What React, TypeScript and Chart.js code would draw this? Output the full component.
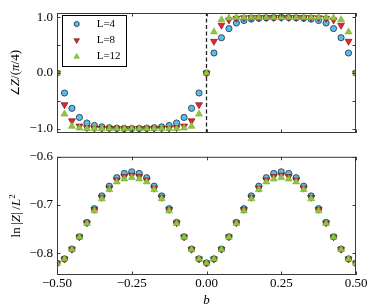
import React, { useEffect, useRef } from 'react';
import { Chart, registerables } from 'chart.js';
import { drawPoint } from 'chart.js/helpers';

Chart.register(...registerables);

// ---------- data ----------
const B_VALUES = [
  -0.5, -0.475, -0.45, -0.425, -0.4, -0.375, -0.35, -0.325, -0.3, -0.275, -0.25,
  -0.225, -0.2, -0.175, -0.15, -0.125, -0.1, -0.075, -0.05, -0.025, 0,
  0.025, 0.05, 0.075, 0.1, 0.125, 0.15, 0.175, 0.2, 0.225, 0.25,
  0.275, 0.3, 0.325, 0.35, 0.375, 0.4, 0.425, 0.45, 0.475, 0.5,
];

const SERIES_LABELS = ['L=4', 'L=8', 'L=12'];

const ANGLE_L4 = [
  0, -0.36, -0.635, -0.8, -0.9, -0.945, -0.97, -0.985, -0.993, -0.997, -1.0,
  -0.997, -0.993, -0.985, -0.97, -0.945, -0.9, -0.8, -0.635, -0.36, 0,
  0.36, 0.635, 0.8, 0.9, 0.945, 0.97, 0.985, 0.993, 0.997, 1.0,
  0.997, 0.993, 0.985, 0.97, 0.945, 0.9, 0.8, 0.635, 0.36, 0,
];
const ANGLE_L8 = [
  0, -0.57, -0.86, -0.955, -0.985, -0.995, -1, -1, -1, -1, -1,
  -1, -1, -1, -1, -0.995, -0.985, -0.955, -0.86, -0.57, 0,
  0.57, 0.86, 0.955, 0.985, 0.995, 1, 1, 1, 1, 1,
  1, 1, 1, 1, 0.995, 0.985, 0.955, 0.86, 0.57, 0,
];
const ANGLE_L12 = [
  0, -0.74, -0.96, -0.99, -1, -1, -1, -1, -1, -1, -1,
  -1, -1, -1, -1, -1, -1, -0.99, -0.96, -0.74, 0,
  0.74, 0.96, 0.99, 1, 1, 1, 1, 1, 1, 1,
  1, 1, 1, 1, 1, 1, 0.99, 0.96, 0.74, 0,
];

const LOGZ_L4 = [
  -0.8205, -0.8116, -0.7913, -0.7657, -0.7359, -0.7075, -0.6811, -0.6609, -0.6433, -0.6345, -0.6311,
  -0.6345, -0.6433, -0.6609, -0.6811, -0.7075, -0.7359, -0.7657, -0.7913, -0.8116, -0.8200,
  -0.8116, -0.7913, -0.7657, -0.7359, -0.7075, -0.6811, -0.6609, -0.6433, -0.6345, -0.6311,
  -0.6345, -0.6433, -0.6609, -0.6811, -0.7075, -0.7359, -0.7657, -0.7913, -0.8116, -0.8205,
];
const LOGZ_L8 = [
  -0.8205, -0.8116, -0.7915, -0.766, -0.737, -0.709, -0.684, -0.665, -0.648, -0.641, -0.638,
  -0.641, -0.648, -0.665, -0.684, -0.709, -0.737, -0.766, -0.7915, -0.8116, -0.8202,
  -0.8116, -0.7915, -0.766, -0.737, -0.709, -0.684, -0.665, -0.648, -0.641, -0.638,
  -0.641, -0.648, -0.665, -0.684, -0.709, -0.737, -0.766, -0.7915, -0.8116, -0.8205,
];
const LOGZ_L12 = [
  -0.8206, -0.8118, -0.792, -0.7665, -0.738, -0.712, -0.687, -0.668, -0.652, -0.646, -0.643,
  -0.646, -0.652, -0.668, -0.687, -0.712, -0.738, -0.7665, -0.792, -0.8118, -0.8203,
  -0.8118, -0.792, -0.7665, -0.738, -0.712, -0.687, -0.668, -0.652, -0.646, -0.643,
  -0.646, -0.652, -0.668, -0.687, -0.712, -0.738, -0.7665, -0.792, -0.8118, -0.8206,
];

const DIVIDER_X = [0, 0];
const DIVIDER_Y = [-1.08, 1.08];

const X_TICKS_STEP = 0.25;
const ANGLE_RANGE = [-1.08, 1.08];
const LOGZ_RANGE = [-0.845, -0.6];

// ---------- styles ----------
const SERIF = '"Liberation Serif", "Times New Roman", serif';
const STYLES = [
  { bg: '#5cbbea', border: '#1c2e3c', bw: 0.8, style: 'circle', rot: 0, r: 3.1, lr: 2.6 },
  { bg: '#e8242c', border: '#5a1010', bw: 0.6, style: 'triangle', rot: 180, r: 4.0, lr: 3.2 },
  { bg: '#8dc63f', border: '#7aae32', bw: 0.6, style: 'triangle', rot: 0, r: 4.0, lr: 3.2 },
];

const fmt = (v: number, d: number) => (v < -1e-9 ? '\u2212' : '') + Math.abs(v).toFixed(d);

function makeDatasets(series: number[][]) {
  const ds: any[] = series.map((vals, i) => ({
    label: SERIES_LABELS[i],
    data: B_VALUES.map((x, j) => ({ x, y: vals[j] })),
    showLine: false,
    pointStyle: STYLES[i].style,
    pointRotation: STYLES[i].rot,
    pointRadius: STYLES[i].r,
    backgroundColor: STYLES[i].bg,
    borderColor: STYLES[i].border,
    pointBorderWidth: STYLES[i].bw,
    borderWidth: STYLES[i].bw,
    order: 2 - i,
    clip: 0,
    inLegend: true,
  }));
  return ds;
}

// inward ticks and frame
const frameTicks = {
  id: 'frameTicks',
  afterDatasetsDraw(chart: any) {
    const { ctx, chartArea: a } = chart;
    const len = 3.5;
    ctx.save();
    ctx.strokeStyle = '#3a3a3a';
    ctx.lineWidth = 1;
    ctx.beginPath();
    const xs = chart.scales.x;
    xs.ticks.forEach((t: any) => {
      const p = Math.round(xs.getPixelForValue(t.value)) + 0.5;
      ctx.moveTo(p, a.bottom);
      ctx.lineTo(p, a.bottom - len);
      ctx.moveTo(p, a.top);
      ctx.lineTo(p, a.top + len);
    });
    const ys = chart.scales.y;
    ys.ticks.forEach((t: any) => {
      const p = Math.round(ys.getPixelForValue(t.value)) + 0.5;
      ctx.moveTo(a.left, p);
      ctx.lineTo(a.left + len, p);
      ctx.moveTo(a.right, p);
      ctx.lineTo(a.right - len, p);
    });
    ctx.stroke();
    ctx.strokeRect(a.left + 0.5, a.top + 0.5, a.right - a.left - 1, a.bottom - a.top - 1);
    ctx.restore();
  },
};

// legend box inside the top panel
const boxLegend = {
  id: 'boxLegend',
  afterDraw(chart: any) {
    const { ctx, chartArea: a } = chart;
    const left = a.left + 4.7;
    const top = a.top + 2.3;
    const w = 64.3;
    const h = 51;
    ctx.save();
    ctx.fillStyle = '#ffffff';
    ctx.fillRect(left, top, w, h);
    ctx.strokeStyle = '#000000';
    ctx.lineWidth = 1;
    ctx.strokeRect(Math.round(left) + 0.5, Math.round(top) + 0.5, Math.round(w), Math.round(h));
    const items = chart.data.datasets.filter((d: any) => d.inLegend);
    items.forEach((ds: any, i: number) => {
      const y = top + 8.7 + i * 16.3;
      const st = STYLES[i];
      ctx.fillStyle = ds.backgroundColor;
      ctx.strokeStyle = ds.borderColor;
      ctx.lineWidth = ds.pointBorderWidth;
      drawPoint(ctx, { pointStyle: ds.pointStyle, rotation: ds.pointRotation, radius: st.lr, borderWidth: ds.pointBorderWidth }, left + 15, y);
      ctx.fillStyle = '#000';
      ctx.font = `11px ${SERIF}`;
      ctx.textBaseline = 'middle';
      ctx.textAlign = 'left';
      ctx.fillText(ds.label, left + 35, y);
    });
    ctx.restore();
  },
};

type Run = { t: string; italic?: boolean; sup?: boolean; scale?: number; family?: string };

function makeYTitle(runs: Run[], baseX: number, size: number) {
  return {
    id: 'yTitle',
    afterDraw(chart: any) {
      const { ctx, chartArea: a } = chart;
      const cy = (a.top + a.bottom) / 2;
      ctx.save();
      ctx.translate(baseX, cy);
      ctx.rotate(-Math.PI / 2);
      ctx.fillStyle = '#000';
      ctx.textBaseline = 'alphabetic';
      ctx.textAlign = 'left';
      const fonts = runs.map((r) => {
        const s = r.sup ? Math.round(size * 0.7) : Math.round(size * (r.scale || 1));
        return `${r.italic ? 'italic ' : ''}${s}px ${r.family || SERIF}`;
      });
      const widths = runs.map((r, i) => {
        ctx.font = fonts[i];
        return ctx.measureText(r.t).width;
      });
      const total = widths.reduce((s, w) => s + w, 0);
      let x = -total / 2;
      runs.forEach((r, i) => {
        ctx.font = fonts[i];
        ctx.fillText(r.t, x, r.sup ? -size * 0.42 : 0);
        x += widths[i];
      });
      ctx.restore();
    },
  };
}

const TOP_TITLE: Run[] = [
  { t: '\u2220', scale: 0.85, family: '"DejaVu Sans", sans-serif' }, { t: 'Z', italic: true }, { t: '/(' }, { t: '\u03c0', italic: true }, { t: '/4)' },
];
const BOTTOM_TITLE: Run[] = [
  { t: 'ln\u2009|' }, { t: 'Z', italic: true }, { t: '|\u2009/' }, { t: 'L', italic: true }, { t: '2', sup: true },
];

export default function App() {
  const topRef = useRef<HTMLCanvasElement>(null);
  const botRef = useRef<HTMLCanvasElement>(null);

  useEffect(() => {
    const tickFont = { family: SERIF, size: 13 };

    const topDatasets = makeDatasets([ANGLE_L4, ANGLE_L8, ANGLE_L12]);
    topDatasets.push({
      label: 'divider',
      data: DIVIDER_X.map((x, i) => ({ x, y: DIVIDER_Y[i] })),
      showLine: true,
      pointRadius: 0,
      borderColor: '#222',
      borderWidth: 1.3,
      borderDash: [4, 2.5],
      order: 5,
      clip: 0,
      inLegend: false,
    });

    const top = new Chart(topRef.current!, {
      type: 'scatter',
      data: { datasets: topDatasets },
      options: {
        responsive: false,
        animation: false,
        devicePixelRatio: 1,
        layout: { padding: { top: 13, right: 16, left: 0, bottom: 0 } },
        plugins: { legend: { display: false }, tooltip: { enabled: false } },
        scales: {
          x: {
            type: 'linear',
            min: B_VALUES[0],
            max: B_VALUES[B_VALUES.length - 1],
            ticks: { stepSize: X_TICKS_STEP, display: false },
            grid: { display: false, drawTicks: false },
            border: { display: false },
            afterFit: (s: any) => { s.height = 12; },
          },
          y: {
            type: 'linear',
            min: ANGLE_RANGE[0],
            max: ANGLE_RANGE[1],
            ticks: {
              stepSize: 0.5,
              includeBounds: false,
              padding: 4,
              color: '#000',
              font: tickFont,
              callback: (v: any) => (Math.abs(v - Math.round(v)) < 1e-6 ? fmt(v, 1) : ''),
            },
            grid: { display: false, drawTicks: false },
            border: { display: false },
            afterFit: (s: any) => { s.width = 57; },
          },
        },
      } as any,
      plugins: [frameTicks, boxLegend, makeYTitle(TOP_TITLE, 19, 13)],
    });

    const bot = new Chart(botRef.current!, {
      type: 'scatter',
      data: { datasets: makeDatasets([LOGZ_L4, LOGZ_L8, LOGZ_L12]) },
      options: {
        responsive: false,
        animation: false,
        devicePixelRatio: 1,
        layout: { padding: { top: 9, right: 16, left: 0, bottom: 0 } },
        plugins: { legend: { display: false }, tooltip: { enabled: false } },
        scales: {
          x: {
            type: 'linear',
            min: B_VALUES[0],
            max: B_VALUES[B_VALUES.length - 1],
            ticks: {
              stepSize: X_TICKS_STEP,
              padding: 1,
              color: '#000',
              font: tickFont,
              maxRotation: 0,
              autoSkip: false,
              callback: (v: any) => fmt(v, 2),
            },
            title: { display: true, text: 'b', color: '#000', font: { family: SERIF, size: 13, style: 'italic' }, padding: 0 },
            grid: { display: false, drawTicks: false },
            border: { display: false },
            afterFit: (s: any) => { s.height = 33; },
          },
          y: {
            type: 'linear',
            min: LOGZ_RANGE[0],
            max: LOGZ_RANGE[1],
            ticks: {
              stepSize: 0.1,
              includeBounds: false,
              padding: 4,
              color: '#000',
              font: tickFont,
              callback: (v: any) => fmt(v, 1),
            },
            grid: { display: false, drawTicks: false },
            border: { display: false },
            afterFit: (s: any) => { s.width = 57; },
          },
        },
      } as any,
      plugins: [frameTicks, makeYTitle(BOTTOM_TITLE, 20, 13)],
    });

    return () => {
      top.destroy();
      bot.destroy();
    };
  }, []);

  return (
    <div style={{ position: 'fixed', left: 0, top: 0, width: 372, height: 308, background: '#fff' }}>
      <canvas ref={topRef} width={372} height={145} style={{ position: 'absolute', left: 0, top: 0 }} />
      <canvas ref={botRef} width={372} height={163} style={{ position: 'absolute', left: 0, top: 145 }} />
    </div>
  );
}
